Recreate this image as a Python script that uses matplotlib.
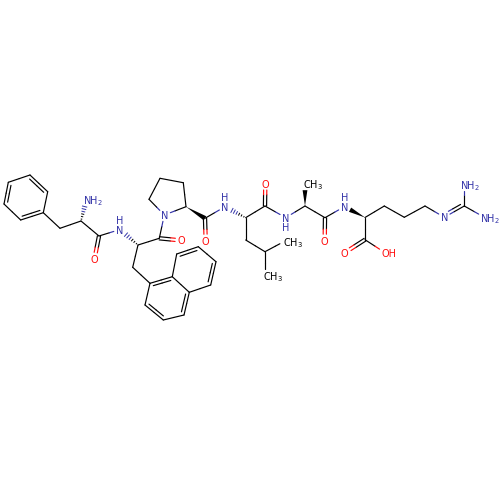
import numpy as np
from matplotlib import pyplot as plt
from matplotlib.patches import Polygon

# atom name: (x, y, element)
atoms = {
    'a1': (30, 175, 'C'), 'a2': (47.7, 191.7, 'C'), 'a3': (43.3, 212.7, 'C'),
    'a4': (20.7, 220, 'C'), 'a5': (4, 204, 'C'), 'a6': (8.3, 182.3, 'C'),
    'f_ch2': (60, 228.3, 'C'), 'f_ca': (81, 221, 'C'), 'f_n': (86.5, 199, 'N'),
    'f_c': (99, 236, 'C'), 'f_o': (94.5, 259, 'O'),
    'n1': (120, 229.5, 'N'),
    'b_ca': (138, 245, 'C'), 'b_ch2': (132.7, 267.3, 'C'),
    'b_c': (159.3, 238.3, 'C'), 'b_o': (181.7, 240.5, 'O'),
    'n1a': (150, 283.3, 'C'), 'n2': (145, 305, 'C'), 'n3': (163.3, 320, 'C'),
    'n4': (184, 315, 'C'), 'n4a': (189.3, 292.3, 'C'), 'n8a': (172.3, 276.7, 'C'),
    'n5': (210.7, 285, 'C'), 'n6': (216, 261.7, 'C'), 'n7': (198.3, 246.7, 'C'),
    'n8': (176.7, 254, 'C'),
    'p_n': (164.3, 215, 'N'), 'p_cd': (149, 199.3, 'C'), 'p_cg': (160, 178.3, 'C'),
    'p_cb': (183.3, 182.7, 'C'), 'p_ca': (186, 206.7, 'C'),
    'p_c': (205, 218.3, 'C'), 'p_o': (205.7, 240.7, 'O'),
    'n2a': (225, 206.7, 'N'),
    'l_ca': (245.7, 217.7, 'C'), 'l_c': (265, 206, 'C'), 'l_o': (265.3, 183.5, 'O'),
    'l_cb': (245.7, 240, 'C'), 'l_cg': (265, 251.7, 'C'),
    'l_me1': (265, 275, 'C3'), 'l_me2': (285.6, 240.7, 'C3'),
    'n3a': (285.7, 217.7, 'N'),
    'a_ca': (305, 206, 'C'), 'a_me': (305, 183.7, 'C3'),
    'a_c': (325, 217.7, 'C'), 'a_o': (324.7, 240.7, 'O'),
    'n4n': (344.3, 206.7, 'N'),
    'r_ca': (365, 217.5, 'C'), 'r_c': (365, 239.7, 'C'),
    'r_o1': (344.7, 252.7, 'O'), 'r_o2': (385, 252.7, 'O'),
    'r_cb': (384.3, 206, 'C'), 'r_cg': (404.3, 217.3, 'C'), 'r_cd': (425, 206, 'C'),
    'r_ne': (444.3, 217.3, 'N'), 'r_cz': (464.3, 206, 'C'),
    'r_n1': (464.3, 184, 'N'), 'r_n2': (484.3, 217.3, 'N'),
}

# (from, to, kind, side) kind: 1 single, 2 double, 'w' solid wedge, 'h' hashed wedge
# side 0 on a double means the two lines straddle the bond
bonds = [
    ('a1', 'a2', 2, 1), ('a2', 'a3', 1, 0), ('a3', 'a4', 2, 1), ('a4', 'a5', 1, 0),
    ('a5', 'a6', 2, 1), ('a6', 'a1', 1, 0),
    ('a3', 'f_ch2', 1, 0), ('f_ch2', 'f_ca', 1, 0), ('f_ca', 'f_n', 'h', 0),
    ('f_ca', 'f_c', 1, 0), ('f_c', 'f_o', 2, 0), ('f_c', 'n1', 1, 0),
    ('b_ca', 'n1', 'h', 0), ('b_ca', 'b_ch2', 1, 0), ('b_ca', 'b_c', 1, 0),
    ('b_c', 'b_o', 2, 0), ('b_c', 'p_n', 1, 0), ('b_ch2', 'n1a', 1, 0),
    ('n1a', 'n2', 1, 0), ('n2', 'n3', 2, -1), ('n3', 'n4', 1, 0), ('n4', 'n4a', 2, -1),
    ('n4a', 'n8a', 1, 0), ('n8a', 'n1a', 2, -1), ('n4a', 'n5', 1, 0), ('n5', 'n6', 2, -1),
    ('n6', 'n7', 1, 0), ('n7', 'n8', 2, -1), ('n8', 'n8a', 1, 0),
    ('p_n', 'p_cd', 1, 0), ('p_cd', 'p_cg', 1, 0), ('p_cg', 'p_cb', 1, 0),
    ('p_cb', 'p_ca', 1, 0), ('p_ca', 'p_n', 1, 0), ('p_ca', 'p_c', 'w', 0),
    ('p_c', 'p_o', 2, 0), ('p_c', 'n2a', 1, 0), ('l_ca', 'n2a', 'h', 0),
    ('l_ca', 'l_c', 1, 0), ('l_c', 'l_o', 2, 0), ('l_ca', 'l_cb', 1, 0),
    ('l_cb', 'l_cg', 1, 0), ('l_cg', 'l_me1', 1, 0), ('l_cg', 'l_me2', 1, 0),
    ('l_c', 'n3a', 1, 0), ('n3a', 'a_ca', 1, 0), ('a_ca', 'a_me', 'w', 0),
    ('a_ca', 'a_c', 1, 0), ('a_c', 'a_o', 2, 0), ('a_c', 'n4n', 1, 0),
    ('r_ca', 'n4n', 'w', 0), ('r_ca', 'r_c', 1, 0), ('r_c', 'r_o1', 2, 0),
    ('r_c', 'r_o2', 1, 0), ('r_ca', 'r_cb', 1, 0), ('r_cb', 'r_cg', 1, 0),
    ('r_cg', 'r_cd', 1, 0), ('r_cd', 'r_ne', 1, 0), ('r_ne', 'r_cz', 2, -1),
    ('r_cz', 'r_n1', 1, 0), ('r_cz', 'r_n2', 1, 0),
]

# atom, label text; left edge sits just before the atom position
labels = [
    ('f_n', 'NH$_2$'), ('f_o', 'O'), ('n1', 'N'), ('b_o', 'O'), ('p_n', 'N'),
    ('p_o', 'O'), ('n2a', 'N'), ('l_o', 'O'), ('l_me1', 'CH$_3$'), ('l_me2', 'CH$_3$'),
    ('n3a', 'N'), ('a_me', 'CH$_3$'), ('a_o', 'O'), ('n4n', 'N'), ('r_o1', 'O'),
    ('r_o2', 'OH'), ('r_ne', 'N'), ('r_n1', 'NH$_2$'), ('r_n2', 'NH$_2$'),
]
# the H of an amide drawn over or under its N
amide_h = [('n1', -1), ('n2a', -1), ('n3a', 1), ('n4n', -1)]

colors = {'C': 'black', 'C3': 'black', 'N': '#3333a8', 'O': '#ff0d0d'}
LW = 0.85
GAP = 6.5
FS = 7.0


def point(name):
    return np.array(atoms[name][:2], dtype=float)


def trimmed(name1, name2):
    """
      ends of a bond, pulled back from atoms that carry a label
    """
    p1, p2 = point(name1), point(name2)
    unit = (p2 - p1) / np.linalg.norm(p2 - p1)
    if atoms[name1][2] != 'C':
        p1 = p1 + unit * GAP
    if atoms[name2][2] != 'C':
        p2 = p2 - unit * GAP
    return p1, p2


def two_tone(ax, name1, name2, p1, p2, shift=0.):
    # each half of the bond takes the colour of its own atom
    mid = (point(name1) + point(name2)) / 2. + shift
    ax.plot(*zip(p1, mid), color=colors[atoms[name1][2]], lw=LW, solid_capstyle='round')
    ax.plot(*zip(mid, p2), color=colors[atoms[name2][2]], lw=LW, solid_capstyle='round')


fig = plt.figure(figsize=(5, 5), dpi=100)
ax = fig.add_axes([0, 0, 1, 1])
ax.set(xlim=[0, 500], ylim=[500, 0])
ax.axis('off')

for name1, name2, kind, side in bonds:
    p1, p2 = trimmed(name1, name2)
    unit = (p2 - p1) / np.linalg.norm(p2 - p1)
    normal = np.array([-unit[1], unit[0]])
    if kind == 1:
        two_tone(ax, name1, name2, p1, p2)
    elif kind == 2 and side == 0:
        for sign in [-1, 1]:
            shift = sign * normal * 1.6
            two_tone(ax, name1, name2, p1 + shift, p2 + shift, shift)
    elif kind == 2:
        two_tone(ax, name1, name2, p1, p2)
        shift = side * normal * 3.2
        inner1 = p1 + shift + unit * (2.5 if atoms[name1][2] == 'C' else 0)
        inner2 = p2 + shift - unit * (2.5 if atoms[name2][2] == 'C' else 0)
        two_tone(ax, name1, name2, inner1, inner2, shift)
    elif kind == 'w':
        half = normal * 2.4
        ax.add_patch(Polygon([p1, p2 + half, p2 - half], closed=True, color='black', lw=0))
    elif kind == 'h':
        for frac in np.arange(0.12, 1.0, 0.16):
            pos = p1 + (p2 - p1) * frac
            half = normal * 2.4 * frac
            color = 'black' if frac < 0.5 else colors[atoms[name2][2]]
            ax.plot(*zip(pos - half, pos + half), color=color, lw=0.7)

for name, text in labels:
    x, y, elem = atoms[name]
    offset = 2.3 if elem == 'C3' else 3.8
    ax.text(x - offset, y, text, color=colors[elem], fontsize=FS,
            ha='left', va='center_baseline', family='DejaVu Sans')

for name, sign in amide_h:
    x, y = atoms[name][:2]
    ax.text(x, y + sign * 9.3, 'H', color=colors['N'], fontsize=FS,
            ha='center', va='center_baseline', family='DejaVu Sans')

fig.savefig('out.png', dpi=100)
